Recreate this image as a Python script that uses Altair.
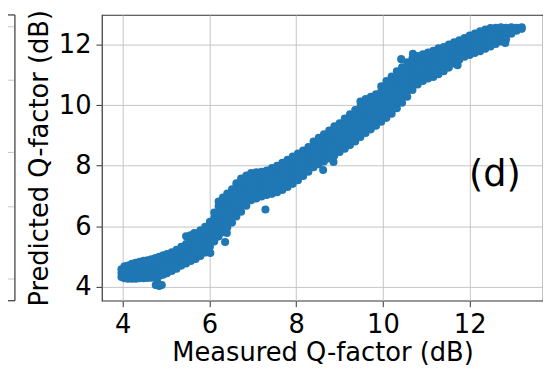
import altair as alt
import pandas as pd

# Each entry: (measured Q-factor, [predicted Q-factor values at that measured value])
low_blob = [
    (3.97, [4.32, 4.46, 4.58]),
    (4.04, [4.28, 4.42, 4.56, 4.68]),
    (4.12, [4.27, 4.41, 4.55, 4.70]),
    (4.21, [4.27, 4.41, 4.55, 4.69, 4.76]),
    (4.30, [4.27, 4.40, 4.54, 4.68, 4.79]),
    (4.39, [4.28, 4.42, 4.56, 4.70, 4.83]),
    (4.48, [4.28, 4.42, 4.57, 4.72, 4.86]),
    (4.57, [4.29, 4.44, 4.59, 4.74, 4.88]),
    (4.66, [4.30, 4.45, 4.61, 4.77, 4.91]),
    (4.75, [4.33, 4.48, 4.64, 4.80, 4.95]),
    (4.84, [4.36, 4.52, 4.68, 4.84, 4.99]),
    (4.93, [4.40, 4.56, 4.72, 4.88, 5.04]),
]

lower_band = [
    (5.02, [4.45, 4.60, 4.76, 4.92, 5.08]),
    (5.13, [4.52, 4.67, 4.83, 4.99, 5.14]),
    (5.24, [4.60, 4.75, 4.91, 5.07, 5.22]),
    (5.35, [4.70, 4.85, 5.01, 5.17, 5.32]),
    (5.46, [4.77, 4.93, 5.09, 5.25, 5.41, 5.67]),
    (5.57, [4.85, 5.01, 5.17, 5.33, 5.49, 5.64]),
    (5.68, [4.92, 5.09, 5.26, 5.43, 5.60, 5.76]),
    (5.79, [5.02, 5.19, 5.36, 5.53, 5.70, 5.87]),
    (5.90, [5.13, 5.30, 5.47, 5.64, 5.81, 5.98]),
    (6.01, [5.32, 5.50, 5.68, 5.86, 6.04, 6.15]),
    (6.11, [5.50, 5.69, 5.88, 6.07, 6.26, 6.45]),
    (6.21, [5.66, 5.86, 6.06, 6.26, 6.46, 6.66, 6.82]),
    (6.31, [5.80, 6.00, 6.20, 6.40, 6.60, 6.80, 6.95]),
    (6.41, [5.96, 6.16, 6.36, 6.56, 6.76, 6.96, 7.08]),
    (6.52, [6.12, 6.32, 6.52, 6.72, 6.92, 7.12, 7.22]),
]

mid_band = [
    (6.62, [6.32, 6.52, 6.72, 6.92, 7.12, 7.32, 7.42]),
    (6.73, [6.48, 6.68, 6.88, 7.08, 7.28, 7.48, 7.58]),
    (6.85, [6.68, 6.88, 7.08, 7.28, 7.48, 7.68]),
    (6.96, [6.86, 7.05, 7.24, 7.43, 7.62, 7.76]),
    (7.08, [6.92, 7.10, 7.28, 7.46, 7.64, 7.78]),
    (7.20, [6.98, 7.16, 7.34, 7.52, 7.70, 7.80]),
    (7.32, [7.03, 7.20, 7.37, 7.54, 7.71, 7.84]),
    (7.44, [7.07, 7.25, 7.43, 7.61, 7.79, 7.92]),
    (7.56, [7.12, 7.30, 7.48, 7.66, 7.84, 8.00]),
    (7.68, [7.20, 7.38, 7.56, 7.74, 7.92, 8.10]),
    (7.80, [7.30, 7.48, 7.66, 7.84, 8.02, 8.20]),
    (7.92, [7.40, 7.58, 7.76, 7.94, 8.12, 8.30]),
    (8.04, [7.52, 7.70, 7.88, 8.06, 8.24, 8.40]),
    (8.16, [7.66, 7.83, 8.00, 8.17, 8.34, 8.50]),
    (8.28, [7.80, 7.97, 8.14, 8.31, 8.48, 8.62]),
    (8.40, [7.95, 8.12, 8.29, 8.46, 8.63, 8.80]),
    (8.52, [8.05, 8.22, 8.39, 8.56, 8.73, 8.92]),
    (8.64, [8.14, 8.32, 8.50, 8.68, 8.86, 9.04]),
    (8.76, [8.24, 8.42, 8.60, 8.78, 8.96, 9.16]),
    (8.88, [8.34, 8.52, 8.70, 8.88, 9.06, 9.30]),
]

upper_band = [
    (9.00, [8.45, 8.64, 8.83, 9.02, 9.21, 9.40]),
    (9.12, [8.56, 8.76, 8.96, 9.16, 9.36, 9.56]),
    (9.24, [8.68, 8.88, 9.08, 9.28, 9.48, 9.70]),
    (9.36, [8.80, 9.00, 9.20, 9.40, 9.60, 9.84]),
    (9.48, [8.95, 9.15, 9.35, 9.55, 9.75, 9.95, 10.12]),
    (9.60, [9.08, 9.28, 9.48, 9.68, 9.88, 10.08, 10.20]),
    (9.72, [9.20, 9.40, 9.60, 9.80, 10.00, 10.20, 10.28]),
    (9.84, [9.32, 9.52, 9.72, 9.92, 10.12, 10.36]),
    (9.96, [9.45, 9.65, 9.85, 10.05, 10.25, 10.45, 10.62]),
    (10.08, [9.58, 9.78, 9.98, 10.18, 10.38, 10.58, 10.80]),
    (10.20, [9.72, 9.92, 10.12, 10.32, 10.52, 10.72, 10.95]),
    (10.32, [9.90, 10.10, 10.30, 10.50, 10.70, 10.90, 11.12]),
    (10.44, [10.08, 10.28, 10.48, 10.68, 10.88, 11.08, 11.25]),
    (10.56, [10.28, 10.47, 10.66, 10.85, 11.04, 11.23, 11.42]),
    (10.68, [10.50, 10.68, 10.86, 11.04, 11.22, 11.40, 11.55]),
    (10.80, [10.68, 10.85, 11.02, 11.19, 11.36, 11.53, 11.62]),
    (10.92, [10.80, 10.96, 11.12, 11.28, 11.44, 11.60, 11.68]),
    (11.04, [10.88, 11.04, 11.20, 11.36, 11.52, 11.68, 11.74]),
]

top_band = [
    (11.16, [10.93, 11.09, 11.25, 11.41, 11.57, 11.73, 11.80]),
    (11.28, [11.02, 11.18, 11.34, 11.50, 11.66, 11.82, 11.88]),
    (11.40, [11.12, 11.28, 11.44, 11.60, 11.76, 11.92]),
    (11.52, [11.24, 11.40, 11.56, 11.72, 11.88, 12.00]),
    (11.64, [11.38, 11.53, 11.68, 11.83, 11.98, 12.08]),
    (11.76, [11.50, 11.64, 11.78, 11.92, 12.06, 12.14]),
    (11.88, [11.60, 11.74, 11.88, 12.02, 12.16, 12.22]),
    (12.00, [11.66, 11.80, 11.94, 12.08, 12.22, 12.30]),
    (12.12, [11.72, 11.86, 12.00, 12.14, 12.28, 12.37]),
    (12.24, [11.78, 11.92, 12.06, 12.20, 12.34, 12.44]),
    (12.36, [11.86, 12.00, 12.14, 12.28, 12.42, 12.50]),
    (12.48, [11.94, 12.08, 12.22, 12.36, 12.50, 12.55]),
    (12.60, [12.02, 12.16, 12.30, 12.44, 12.56]),
    (12.72, [12.10, 12.24, 12.38, 12.52, 12.57]),
    (12.84, [12.18, 12.32, 12.46, 12.56]),
    (12.96, [12.36, 12.48, 12.57]),
    (13.08, [12.46, 12.56]),
    (13.20, [12.52, 12.57]),
]

# isolated points (measured, predicted)
outliers = [
    (4.76, 4.06), (4.84, 4.03), (4.90, 4.06), (4.80, 4.14),
    (5.56, 5.70), (5.65, 5.78),
    (6.02, 5.12), (6.36, 5.48), (6.40, 5.78),
    (7.29, 6.55), (8.62, 7.86), (8.86, 8.12),
    (10.42, 11.52), (10.69, 11.70), (11.72, 11.32), (12.82, 12.05),
]

x_ticks = [4, 6, 8, 10, 12]
y_ticks = [4, 6, 8, 10, 12]
panel_label = ["(d)"]
panel_label_pos = [(12.58, 7.69)]

rows = []
for seg in (low_blob, lower_band, mid_band, upper_band, top_band):
    for mx, ys in seg:
        for py in ys:
            rows.append({"measured": mx, "predicted": py})
for mx, py in outliers:
    rows.append({"measured": mx, "predicted": py})
df = pd.DataFrame(rows)

lab_df = pd.DataFrame({
    "measured": [p[0] for p in panel_label_pos],
    "predicted": [p[1] for p in panel_label_pos],
    "text": panel_label,
})

xscale = alt.Scale(domain=[3.52, 13.69], nice=False, zero=False)
yscale = alt.Scale(domain=[3.54, 12.98], nice=False, zero=False)

points = alt.Chart(df).mark_circle(size=66, color="#1f77b4", opacity=1).encode(
    x=alt.X("measured:Q", scale=xscale,
            axis=alt.Axis(values=x_ticks, title="Measured Q-factor (dB)", format="d")),
    y=alt.Y("predicted:Q", scale=yscale,
            axis=alt.Axis(values=y_ticks, title="Predicted Q-factor (dB)", format="d")),
)

label = alt.Chart(lab_df).mark_text(
    fontSize=37, font="DejaVu Sans", color="black", align="center", baseline="middle"
).encode(
    x=alt.X("measured:Q", scale=xscale),
    y=alt.Y("predicted:Q", scale=yscale),
    text="text:N",
)

# remnant of the neighbouring panel's frame at the left edge (cropped in the reference)
frag_base = alt.Chart(pd.DataFrame({"k": [0]}))
frag_frame = frag_base.mark_rule(color="#333333", strokeWidth=1.2).encode(
    x=alt.value(-88), y=alt.value(0), y2=alt.value(289))
frag_top = frag_base.mark_rule(color="#333333", strokeWidth=1.2).encode(
    x=alt.value(-96), x2=alt.value(-88), y=alt.value(0))
frag_bottom = frag_base.mark_rule(color="#333333", strokeWidth=1.2).encode(
    x=alt.value(-96), x2=alt.value(-88), y=alt.value(289))
frag_grids = [
    frag_base.mark_rule(color="#c4c4c4", strokeWidth=1).encode(
        x=alt.value(-96), x2=alt.value(-89), y=alt.value(v))
    for v in (12, 66, 139, 194, 267)
]

chart = alt.layer(points, label, frag_frame, frag_top, frag_bottom, *frag_grids).properties(
    width=446, height=289,
    autosize="none",
    padding={"left": 95, "top": 5, "right": 0, "bottom": 65},
).configure_view(
    stroke="#333333", strokeWidth=1.2
).configure_axis(
    grid=True, gridColor="#c4c4c4", gridWidth=1,
    domain=False,
    tickColor="#333333", tickSize=6, tickWidth=1,
    labelFont="DejaVu Sans", labelFontSize=26, labelColor="black", labelPadding=5,
    titleFont="DejaVu Sans", titleFontSize=26, titleColor="black", titleFontWeight="normal",
).configure_axisX(titlePadding=2).configure_axisY(titlePadding=6)

chart.save("out.html", embed_options={"renderer": "svg", "actions": False})
